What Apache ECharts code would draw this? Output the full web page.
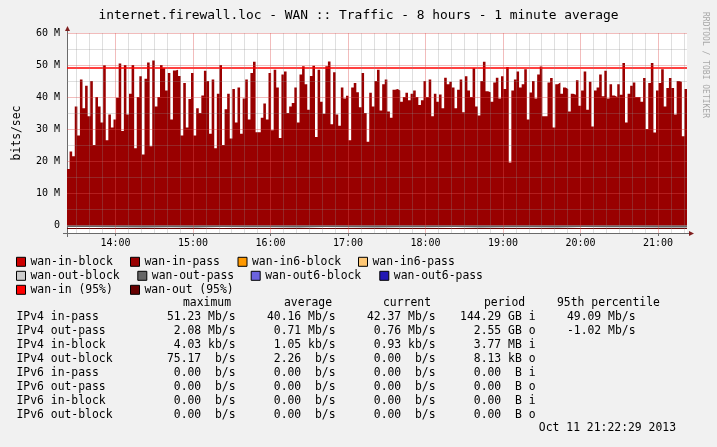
<!DOCTYPE html>
<html><head><meta charset="utf-8">
<script src="https://cdn.jsdelivr.net/npm/echarts@6/dist/echarts.min.js"></script>
<style>html,body{margin:0;padding:0;background:#f1f1f1}#c{width:717px;height:447px}</style>
</head><body><div id="c"></div>
<script>
// ---------- data ----------
const titleText = 'internet.firewall.loc - WAN :: Traffic - 8 hours - 1 minute average';
const startMin = 802.5;      // 13:22:30, minutes since midnight
const spanMin = 480;         // 8 hours
const inStep = 2;            // minutes per value
// wan-in-pass, Mbit/s, 2-minute steps
const inPass = [
 17.5, 23, 21.5, 37, 28, 45.5, 36.5, 43.5, 34, 45,
 25, 40, 37, 32, 49.9, 26.5, 34.5, 30.5, 33, 39.8,
 50.5, 29.4, 50, 34.5, 41, 50, 24, 40, 46.5, 22,
 45.7, 50.8, 24.6, 51.4, 37, 40, 50, 49, 42, 47.5,
 33, 48.3, 48.5, 46.6, 28, 44.4, 30.5, 39.4, 47.5, 28,
 36.5, 35, 40.5, 48.2, 45, 28.5, 45.5, 24, 41,
 50, 25, 36.2, 41, 27, 42.5, 32, 43, 28.5, 39.5, 45.5,
 33, 47.5, 51, 29, 29, 33.5, 38, 33, 47.5, 29.6,
 48.5, 43, 27.2, 47, 48, 35, 37, 38.1, 43, 32,
 47, 49.6, 44, 36, 46.6, 49.8, 27.5, 48.5, 38.5, 34.8,
 49.6, 51.1, 31.5, 47.7, 34.5, 31, 43, 39.5, 40.4, 26.5,
 43, 44.4, 41.5, 36.8, 47.5, 35, 26, 41.3, 37,
 45, 48.5, 35.8, 44, 45.5, 35.5, 33.5, 42.3, 42.5, 42, 38.5,
 40, 41.3, 39, 41, 42, 40, 37.5, 39, 45, 40,
 45.5, 34, 41, 38.5, 40.8, 36.5, 46, 44, 44.8, 43,
 36.5, 42.3, 45.5, 35.2, 46.5, 42, 40, 49, 37, 34.2,
 45, 51, 41.8, 41.5, 38.5, 44.5, 46, 39.5, 46.5, 42.5,
 49.4, 19.5, 42, 45.5, 48, 43, 44, 48.7, 33, 41.4,
 45, 39.5, 47, 49.5, 34, 34, 44.5, 45.9, 30.5, 44,
 44.5, 41, 43, 42.5, 35.5, 41, 40.7, 45.2, 37.3, 42,
 48, 36, 44.8, 30.8, 42, 43, 47, 40.2, 48.2, 39.5,
 44, 40.5, 40, 44, 40.7, 50.6, 32, 41, 43.5, 44.5,
 40, 40, 38.5, 45.9, 30, 44.4, 50.6, 28.9, 42, 44.4,
 48.7, 37, 42.8, 45.9, 42.8, 34.5, 45, 44.8, 27.7, 42.5
];
const outStep = 20;          // minutes per value
// wan-out-pass, Mbit/s (plotted below zero)
const outPass = [0.6,0.7,0.8,0.7,0.8,0.6,0.7,0.7,0.8,0.6,0.7,0.8,0.7,0.7,0.6,0.8,0.7,0.7,0.8,0.6,0.7,0.7,0.8,0.76];
const p95In = 49.09;
const p95Out = -1.02;
const hourTicks = [840, 900, 960, 1020, 1080, 1140, 1200, 1260];
const yMin = -2.5, yMax = 60;

const legendNames = ['wan-in-block','wan-in-pass','wan-in6-block','wan-in6-pass',
  'wan-out-block','wan-out-pass','wan-out6-block','wan-out6-pass','wan-in (95%)','wan-out (95%)'];

const statHeaders = ['maximum','average','current','period','95th percentile'];
const rowLabels = ['IPv4 in-pass','IPv4 out-pass','IPv4 in-block','IPv4 out-block',
  'IPv6 in-pass','IPv6 out-pass','IPv6 in-block','IPv6 out-block'];
const maxVals = ['51.23 Mb/s','2.08 Mb/s','4.03 kb/s','75.17  b/s','0.00  b/s','0.00  b/s','0.00  b/s','0.00  b/s'];
const avgVals = ['40.16 Mb/s','0.71 Mb/s','1.05 kb/s','2.26  b/s','0.00  b/s','0.00  b/s','0.00  b/s','0.00  b/s'];
const curVals = ['42.37 Mb/s','0.76 Mb/s','0.93 kb/s','0.00  b/s','0.00  b/s','0.00  b/s','0.00  b/s','0.00  b/s'];
const periodVals = ['144.29 GB i','2.55 GB o','3.77 MB i','8.13 kB o','0.00  B i','0.00  B o','0.00  B i','0.00  B o'];
const p95Vals = ['49.09 Mb/s','-1.02 Mb/s'];
const stampText = 'Oct 11 21:22:29 2013';

// ---------- styles / layout ----------
const FONT = '"DejaVu Sans Mono", monospace';
const colors = {
  'wan-in-block':'#cc0000','wan-in-pass':'#990000','wan-in6-block':'#ff9900','wan-in6-pass':'#ffc875',
  'wan-out-block':'#cccccc','wan-out-pass':'#666666','wan-out6-block':'#6b63e0','wan-out6-pass':'#2218b4',
  'wan-in (95%)':'#ff0000','wan-out (95%)':'#660000'
};
const legendPos = [
  [16,262],[130,262],[237.5,262],[358,262],
  [16,276],[137.3,276],[250.7,276],[379.3,276],
  [16,290],[130,290]
];
const G = {left:67, top:33, width:620, height:200};
const minorC = 'rgba(140,140,140,0.28)';
const majorC = 'rgba(222,79,79,0.38)';

function stepPts(vals, step, sign) {
  const pts = vals.map((v, i) => [startMin + i * step, sign * v]);
  pts.push([startMin + vals.length * step, sign * vals[vals.length - 1]]);
  return pts;
}
function hh(v) { const h = Math.round(v / 60); return (h < 10 ? '0' : '') + h + ':00'; }

// grid lines as marklines (drawn over the areas like rrdtool)
const gridLines = [];
for (let m = 810; m < startMin + spanMin; m += 10) {
  gridLines.push({xAxis: m, lineStyle: {color: m % 60 === 0 ? majorC : minorC, width: 1, type: 'solid'}});
}
for (let v = 0; v <= yMax; v += 5) {
  gridLines.push({yAxis: v, lineStyle: {color: v % 10 === 0 ? majorC : minorC, width: 1, type: 'solid'}});
}

const series = legendNames.map(n => ({
  name: n, type: 'line', data: [], color: colors[n], showSymbol: false, animation: false
}));
const sInPass = series[1];
Object.assign(sInPass, {data: stepPts(inPass, inStep, 1), step: 'end',
  lineStyle: {width: 0, opacity: 0}, areaStyle: {color: colors['wan-in-pass'], opacity: 1}, z: 2});
const sOutPass = series[5];
Object.assign(sOutPass, {data: stepPts(outPass, outStep, -1), step: 'end',
  lineStyle: {width: 0, opacity: 0}, areaStyle: {color: colors['wan-out-pass'], opacity: 1}, z: 3});
series[8].markLine = {silent: true, symbol: 'none', label: {show: false}, animation: false,
  data: [{yAxis: p95In}], lineStyle: {color: colors['wan-in (95%)'], width: 1.5, type: 'solid'}};
series[9].markLine = {silent: true, symbol: 'none', label: {show: false}, animation: false,
  data: [{yAxis: p95Out}], lineStyle: {color: colors['wan-out (95%)'], width: 1, type: 'solid'}};
series.push({name: '__grid', type: 'line', data: [], animation: false,
  markLine: {silent: true, symbol: 'none', label: {show: false}, animation: false, data: gridLines}});

const legends = legendNames.map((n, i) => ({
  data: [n], left: legendPos[i][0], top: legendPos[i][1] - 5.7, padding: 0,
  icon: 'rect', itemWidth: 9, itemHeight: 9, selectedMode: false,
  itemStyle: {borderColor: '#000', borderWidth: 1},
  textStyle: {fontFamily: FONT, fontSize: 11.4, color: '#000'}
}));

// text table
const txt = (text, x, y, align, size, fill) => ({type: 'text', x: x, y: y, silent: true,
  style: {text: text, font: (size || 11.4) + 'px ' + FONT, fill: fill || '#000', align: align || 'left', verticalAlign: 'middle'}});
const graphics = [];
const headerX = [183, 284, 383, 484, 557];
statHeaders.forEach((h, i) => graphics.push(txt(h, headerX[i], 303.3)));
const colRight = [235.5, 335.5, 435.5, 535.5, 635.5];
rowLabels.forEach((lab, r) => {
  const y = 316.8 + r * 14.03;
  graphics.push(txt(lab, 16.5, y));
  [maxVals, avgVals, curVals, periodVals, p95Vals].forEach((col, c) => {
    if (col[r] !== undefined) graphics.push(txt(col[r], colRight[c], y, 'right'));
  });
});
graphics.push(txt(stampText, 676, 428.5, 'right'));
// rrdtool watermark
graphics.push({type: 'text', x: 705, y: 65, rotation: -Math.PI / 2, silent: true,
  style: {text: 'RRDTOOL / TOBI OETIKER', font: '8px ' + FONT, fill: '#a8a8a8', align: 'center', verticalAlign: 'middle'}});
// axis extensions and arrows
const axC = '#6a6a6a', arC = '#801f1f';
const xA = G.left, yA = G.top + G.height;
graphics.push({type: 'line', silent: true, shape: {x1: xA + 0.5, y1: yA, x2: xA + 0.5, y2: yA + 4}, style: {stroke: axC, lineWidth: 1}});
graphics.push({type: 'line', silent: true, shape: {x1: xA + 0.5, y1: G.top, x2: xA + 0.5, y2: G.top - 3}, style: {stroke: axC, lineWidth: 1}});
graphics.push({type: 'line', silent: true, shape: {x1: xA - 4, y1: yA + 0.5, x2: xA, y2: yA + 0.5}, style: {stroke: axC, lineWidth: 1}});
graphics.push({type: 'line', silent: true, shape: {x1: xA + G.width, y1: yA + 0.5, x2: xA + G.width + 3, y2: yA + 0.5}, style: {stroke: axC, lineWidth: 1}});
graphics.push({type: 'polygon', silent: true, shape: {points: [[xA + 0.5, G.top - 7], [xA - 2, G.top - 2], [xA + 3, G.top - 2]]}, style: {fill: arC}});
graphics.push({type: 'polygon', silent: true, shape: {points: [[xA + G.width + 7, yA + 0.5], [xA + G.width + 2, yA - 2], [xA + G.width + 2, yA + 3]]}, style: {fill: arC}});

const chart = echarts.init(document.getElementById('c'), null, {renderer: 'canvas'});
chart.setOption({
  backgroundColor: '#f1f1f1',
  animation: false,
  title: {text: titleText, left: 'center', top: 9, padding: 0,
    textStyle: {fontFamily: FONT, fontSize: 12.9, fontWeight: 'normal', color: '#000'}},
  legend: legends,
  grid: {left: G.left, top: G.top, width: G.width, height: G.height, backgroundColor: '#ffffff', show: true, borderWidth: 0},
  xAxis: {type: 'value', min: startMin, max: startMin + spanMin, interval: 7.5,
    axisLine: {show: true, onZero: false, lineStyle: {color: axC, width: 1}},
    axisTick: {show: true, customValues: hourTicks, length: 3, lineStyle: {color: axC}},
    axisLabel: {margin: 5, fontFamily: FONT, fontSize: 10, color: '#000',
      formatter: v => (Math.abs(v % 60) < 1e-6 ? hh(v) : '')},
    splitLine: {show: false}},
  yAxis: {type: 'value', min: yMin, max: yMax, interval: 2.5,
    name: 'bits/sec', nameLocation: 'middle', nameGap: 44, nameRotate: 90,
    nameTextStyle: {fontFamily: FONT, fontSize: 11.4, color: '#000'},
    axisLine: {show: true, lineStyle: {color: axC, width: 1}},
    axisTick: {show: false},
    axisLabel: {margin: 7, fontFamily: FONT, fontSize: 10, color: '#000',
      formatter: v => (v >= 0 && Math.abs(v % 10) < 1e-6 ? (v === 0 ? '0' : v + ' M') : '')},
    splitLine: {show: false}},
  series: series,
  graphic: graphics
});
</script></body></html>
